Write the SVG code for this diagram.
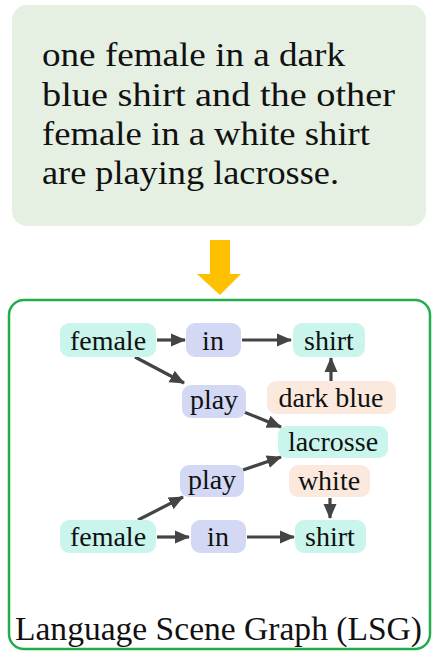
<svg xmlns="http://www.w3.org/2000/svg" width="436" height="652" viewBox="0 0 436 652">
  <style>
    .caption { font-family: "Liberation Serif", "DejaVu Serif", serif; font-size: 34px; fill: #111; }
    .lbl { font-family: "Liberation Serif", "DejaVu Serif", serif; font-size: 28px; fill: #111; text-anchor: middle; }
    .obj { fill: #c9f5ec; }
    .rel { fill: #d3d9f5; }
    .attr { fill: #fbe9dd; }
    .edge { stroke: #444; stroke-width: 3.2; fill: none; marker-end: url(#head); }
  </style>
  <defs>
    <marker id="head" markerUnits="userSpaceOnUse" markerWidth="16" markerHeight="16" refX="14" refY="8" orient="auto">
      <path d="M0,1.5 L15,8 L0,14.5 Z" fill="#444"/>
    </marker>
  </defs>

  <!-- sentence box -->
  <g id="sentence">
    <rect x="12" y="5" width="414" height="221" rx="15" fill="#e5f0e3"/>
    <text class="caption" x="42" y="66" textLength="303" lengthAdjust="spacingAndGlyphs">one female in a dark</text>
    <text class="caption" x="42" y="106" textLength="353" lengthAdjust="spacingAndGlyphs">blue shirt and the other</text>
    <text class="caption" x="42" y="145" textLength="328" lengthAdjust="spacingAndGlyphs">female in a white shirt</text>
    <text class="caption" x="42" y="184" textLength="297" lengthAdjust="spacingAndGlyphs">are playing lacrosse.</text>
  </g>

  <!-- yellow down arrow -->
  <g id="down-arrow">
    <path d="M210,240 H230 V274 H241 L220,295 L197,274 H210 Z" fill="#ffc000"/>
  </g>

  <!-- scene graph frame -->
  <g id="lsg-frame">
    <rect x="9" y="300" width="421" height="349" rx="15" fill="none" stroke="#22ad4b" stroke-width="2.5"/>
    <text class="caption" x="15" y="640" textLength="407" lengthAdjust="spacingAndGlyphs">Language Scene Graph (LSG)</text>
  </g>

  <!-- connectors -->
  <g id="edges">
    <line class="edge" x1="157" y1="340" x2="185" y2="340"/>
    <line class="edge" x1="242" y1="340" x2="291" y2="340"/>
    <line class="edge" x1="135" y1="357" x2="184" y2="383"/>
    <line class="edge" x1="244" y1="412" x2="281" y2="427"/>
    <line class="edge" x1="331" y1="381" x2="331" y2="358"/>
    <line class="edge" x1="243" y1="470" x2="281" y2="457"/>
    <line class="edge" x1="138" y1="520" x2="183" y2="497"/>
    <line class="edge" x1="330" y1="498" x2="330" y2="518"/>
    <line class="edge" x1="157" y1="537" x2="189" y2="537"/>
    <line class="edge" x1="247" y1="537" x2="294" y2="537"/>
  </g>

  <!-- nodes -->
  <g id="female-1">
    <rect class="obj" x="60" y="323" width="96" height="34" rx="9"/>
    <text class="lbl" x="108" y="350">female</text>
  </g>
  <g id="in-1">
    <rect class="rel" x="186" y="323" width="55" height="34" rx="9"/>
    <text class="lbl" x="213" y="350">in</text>
  </g>
  <g id="shirt-1">
    <rect class="obj" x="293" y="323" width="72" height="34" rx="9"/>
    <text class="lbl" x="329" y="350">shirt</text>
  </g>
  <g id="play-1">
    <rect class="rel" x="182" y="385" width="64" height="33" rx="9"/>
    <text class="lbl" x="214" y="409">play</text>
  </g>
  <g id="dark-blue">
    <rect class="attr" x="267" y="381" width="129" height="33" rx="9"/>
    <text class="lbl" x="331" y="407">dark blue</text>
  </g>
  <g id="lacrosse">
    <rect class="obj" x="278" y="426" width="110" height="32" rx="9"/>
    <text class="lbl" x="333" y="451">lacrosse</text>
  </g>
  <g id="play-2">
    <rect class="rel" x="180" y="465" width="64" height="32" rx="9"/>
    <text class="lbl" x="212" y="489">play</text>
  </g>
  <g id="white">
    <rect class="attr" x="289" y="465" width="81" height="32" rx="9"/>
    <text class="lbl" x="329" y="490">white</text>
  </g>
  <g id="female-2">
    <rect class="obj" x="60" y="520" width="96" height="33" rx="9"/>
    <text class="lbl" x="108" y="546">female</text>
  </g>
  <g id="in-2">
    <rect class="rel" x="191" y="520" width="55" height="33" rx="9"/>
    <text class="lbl" x="218" y="546">in</text>
  </g>
  <g id="shirt-2">
    <rect class="obj" x="295" y="520" width="71" height="33" rx="9"/>
    <text class="lbl" x="330" y="546">shirt</text>
  </g>
</svg>
